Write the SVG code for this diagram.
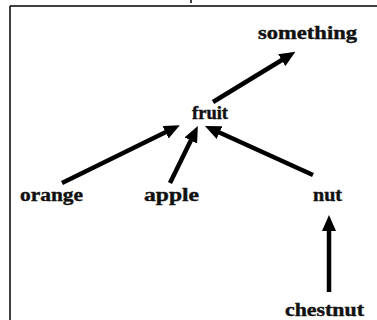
<svg xmlns="http://www.w3.org/2000/svg" width="377" height="320" viewBox="0 0 377 320">
<style>
.frame{stroke:#000;stroke-width:1.5;fill:none}
.lbl{font-family:"Liberation Serif","Times New Roman",serif;font-weight:bold;font-size:18px;fill:#111;stroke:#111;stroke-width:0.4}
.conn line{stroke:#000;stroke-width:4.5}
</style>
<defs>
<marker id="ah" markerUnits="userSpaceOnUse" markerWidth="16" markerHeight="14" refX="5" refY="7" orient="auto">
<path d="M0,0 L16,7 L0,14 z" fill="#000"/>
</marker>
</defs>
<rect width="377" height="320" fill="#fff"/>
<g id="frame">
<line class="frame" x1="10" y1="6" x2="377" y2="6"/>
<line class="frame" x1="10" y1="6" x2="10" y2="320"/>
<line class="frame" x1="191" y1="0" x2="191" y2="3"/>
</g>
<g class="conn" id="connectors">
<line x1="213" y1="102" x2="286" y2="57.5" marker-end="url(#ah)"/>
<line x1="62" y1="183" x2="170" y2="130" marker-end="url(#ah)"/>
<line x1="170" y1="183" x2="193" y2="136" marker-end="url(#ah)"/>
<line x1="313" y1="175" x2="215" y2="130.5" marker-end="url(#ah)"/>
<line x1="329" y1="292" x2="329" y2="226" marker-end="url(#ah)"/>
</g>
<g id="something"><text class="lbl" x="258" y="39" textLength="99" lengthAdjust="spacingAndGlyphs">something</text></g>
<g id="fruit"><text class="lbl" x="192" y="119" textLength="36" lengthAdjust="spacingAndGlyphs">fruit</text></g>
<g id="orange"><text class="lbl" x="20" y="201" textLength="63" lengthAdjust="spacingAndGlyphs">orange</text></g>
<g id="apple"><text class="lbl" x="144" y="201" textLength="55" lengthAdjust="spacingAndGlyphs">apple</text></g>
<g id="nut"><text class="lbl" x="313" y="201" textLength="29" lengthAdjust="spacingAndGlyphs">nut</text></g>
<g id="chestnut"><text class="lbl" x="285" y="316" textLength="79" lengthAdjust="spacingAndGlyphs">chestnut</text></g>
</svg>
